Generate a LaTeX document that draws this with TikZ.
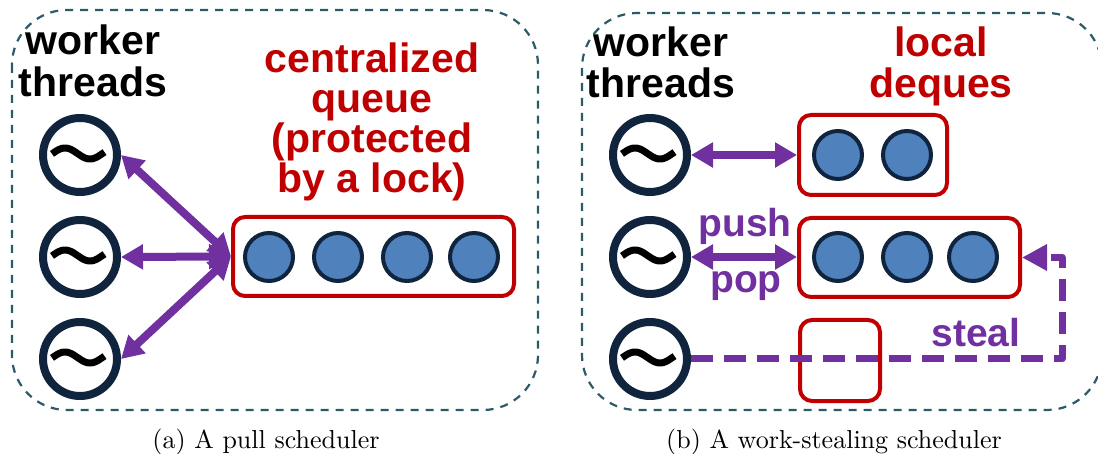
\documentclass[tikz,border=0pt]{standalone}
\usepackage{fontspec}
\newfontfamily\labelfont{Liberation Sans}
\newfontfamily\capfont{lmroman10-regular}[Extension=.otf]
\usetikzlibrary{arrows.meta}

\definecolor{qred}{HTML}{C00000}
\definecolor{oppurple}{HTML}{7030A0}
\definecolor{taskblue}{HTML}{4F81BD}
\definecolor{navy}{HTML}{10243E}
\definecolor{panelteal}{HTML}{2D5A69}

\tikzset{
	wave/.pic={
		\draw[line width=7pt] plot[domain=-25.5:27,samples=40,smooth] ({\x-2.5},{5.5*sin(7.2*\x)-1.5});
	}
}

\begin{document}
\begin{tikzpicture}[x=1pt,y=-1pt,
	panel/.style={draw=panelteal,line width=2.2pt,dash pattern=on 8pt off 7pt,rounded corners=55pt},
	worker/.style={circle,draw=navy,line width=8pt,minimum size=74pt,inner sep=0pt},
	task/.style={circle,draw=navy,fill=taskblue,line width=4pt,minimum size=48pt,inner sep=0pt},
	dequebox/.style={draw=qred,line width=4pt,rounded corners=12pt,inner sep=0pt},
	headline/.style={font=\labelfont\bfseries\fontsize{41}{#1}\selectfont,align=center,anchor=base,inner sep=0pt},
	headline/.default=41,
	oplabel/.style={font=\labelfont\bfseries\fontsize{39}{39}\selectfont,text=oppurple,anchor=base,inner sep=0pt},
	access/.style={draw=oppurple,line width=8pt,>={Triangle[length=22pt,width=24pt]},<->},
	stealpath/.style={draw=oppurple,line width=7pt,dash pattern=on 22pt off 11pt,line join=round,>={Triangle[length=25pt,width=25pt]},->},
	subcap/.style={font=\capfont\fontsize{26}{30}\selectfont,anchor=base,inner sep=0pt}]
	\clip (0,0) rectangle (1098,454);

	% the two dashed panels
	\draw[panel] (12,10) rectangle (538,410);
	\draw[panel] (582,13) rectangle (1102,410);

	% worker threads, both panels
	\foreach \i/\y in {1/155,2/257,3/359}{
		\node[worker] (wa\i) at (80,\y) {};
		\pic at (wa\i) {wave};
		\node[worker] (wb\i) at (650,\y) {};
		\pic at (wb\i) {wave};
	}

	% (a) one shared queue
	\node[dequebox,minimum width=281pt,minimum height=79pt] (cq) at (373.5,256.5) {};
	\foreach \x/\i in {269/1,338/2,407/3,474/4}
		\node[task] (qa\i) at (\x,257) {};
	\foreach \i in {1,2,3}
		\draw[access] (cq.west) -- (wa\i.east);

	% multi-line labels sit on the baseline of their last line
	\node[headline=42] (wta) at (93,97) {worker\\threads};
	\node[headline=40,text=qred] (cql) at (372,193) {centralized\\queue\\(protected\\by a lock)};

	% (b) one deque per worker
	\node[dequebox,minimum width=148pt,minimum height=80pt] (d1) at (873,155) {};
	\node[dequebox,minimum width=221pt,minimum height=79pt] (d2) at (909.5,257.5) {};
	\node[dequebox,minimum width=80pt,minimum height=81pt] (d3) at (840,360.5) {};
	\foreach \x/\i in {838/1,907/2}
		\node[task] (ta\i) at (\x,155) {};
	\foreach \x/\i in {838/1,907/2,973/3}
		\node[task] (tb\i) at (\x,257) {};

	\draw[access] (wb1.east) -- (wb1.east -| d1.west);
	\draw[access] (wb2.east) -- (wb2.east -| d2.west);
	\coordinate (sc) at (1062,359);
	\draw[stealpath] (wb3.east) -- (sc) |- (d2.east);

	\node[headline] (wtb) at (661,98) {worker\\threads};
	\node[headline,text=qred] (dql) at (941,98) {local\\deques};
	\node[oplabel] (push) at (745,237) {push};
	\node[oplabel] (pop) at (746,293) {pop};
	\node[oplabel] (steal) at (976,347) {steal};

	% sub-captions
	\node[subcap] (capa) at (266,448) {(a)\ A pull scheduler};
	\node[subcap] (capb) at (834,448) {(b)\ A work-stealing scheduler};
\end{tikzpicture}
\end{document}
